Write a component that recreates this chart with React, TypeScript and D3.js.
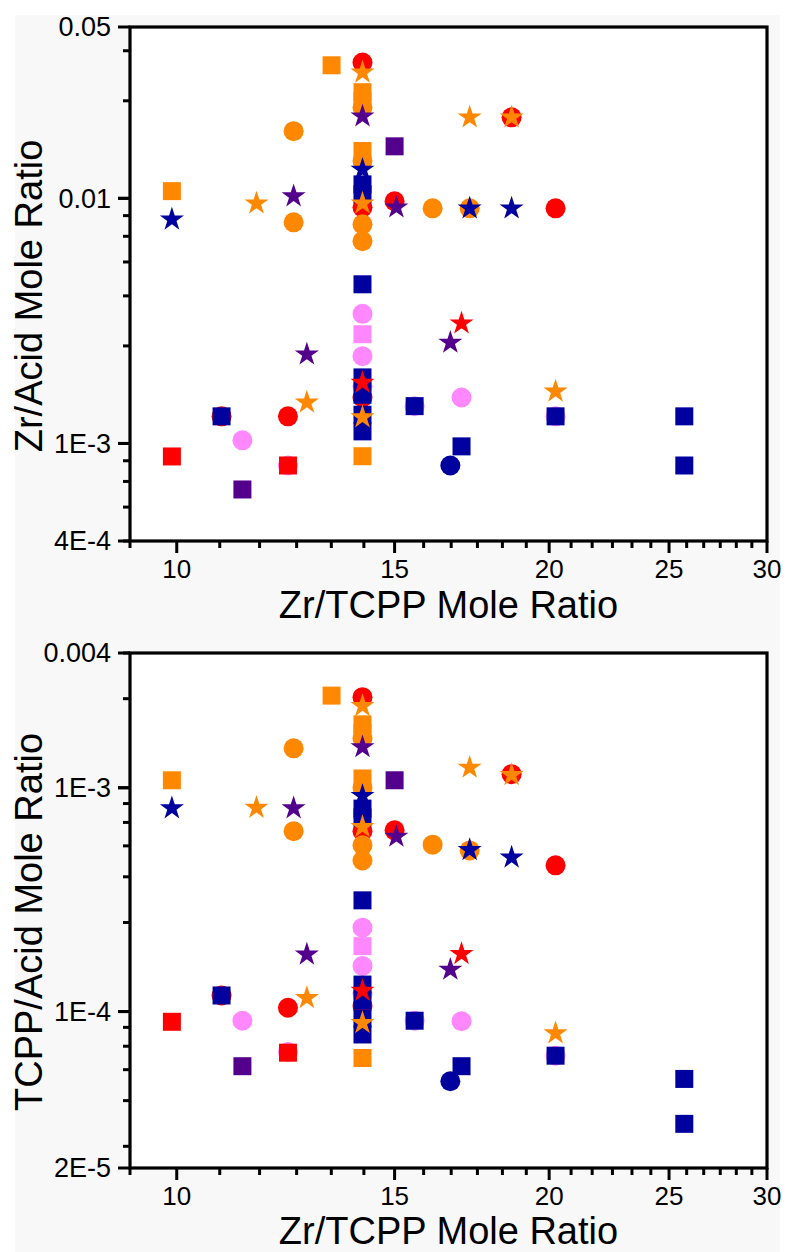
import React from "react";
import * as d3 from "d3";

// ---------- data ----------
// x = Zr/TCPP mole ratio, za = Zr/Acid mole ratio, ta = TCPP/Acid mole ratio
const pinkCircleX = [11.3, 12.3, 14.13, 14.13, 14.13, 15.57, 16.99, 20.24];
const pinkCircleZa = [0.00103, 0.000813, 0.00338, 0.00227, 0.00171, 0.00142, 0.00154, 0.00129];
const pinkCircleTa = [9.1e-5, 6.6e-5, 0.000237, 0.00016, 0.00012, 9.1e-5, 9.05e-5, 6.35e-5];

const redCircleX = [10.87, 12.3, 14.13, 14.13, 14.13, 15.0, 18.65, 20.24];
const redCircleZa = [0.00129, 0.00129, 0.0358, 0.00919, 0.00154, 0.00973, 0.0214, 0.0091];
const redCircleTa = [0.000118, 0.000104, 0.00254, 0.00064, 0.000106, 0.000645, 0.00115, 0.00045];

const orangeCircleX = [12.43, 12.43, 14.13, 14.13, 14.13, 14.13, 16.1, 17.25];
const orangeCircleZa = [0.0188, 0.00798, 0.0235, 0.0142, 0.00783, 0.00669, 0.0091, 0.0091];
const orangeCircleTa = [0.0015, 0.00064, 0.00166, 0.001, 0.000554, 0.000473, 0.000557, 0.000525];

const navyCircleX = [16.64];
const navyCircleZa = [0.000813];
const navyCircleTa = [4.88e-5];

const pinkSquareX = [14.13];
const pinkSquareZa = [0.00279];
const pinkSquareTa = [0.000196];

const redSquareX = [9.91, 12.3];
const redSquareZa = [0.000885, 0.000813];
const redSquareTa = [9.0e-5, 6.55e-5];

const orangeSquareX = [9.91, 13.34, 14.13, 14.13, 14.13, 14.13];
const orangeSquareZa = [0.0107, 0.0349, 0.0271, 0.0249, 0.0156, 0.000887];
const orangeSquareTa = [0.00108, 0.00258, 0.00192, 0.00176, 0.0011, 6.2e-5];

const purpleSquareX = [11.3, 15.0];
const purpleSquareZa = [0.000649, 0.0163];
const purpleSquareTa = [5.7e-5, 0.00108];

const navySquareX = [10.87, 14.13, 14.13, 14.13, 14.13, 14.13, 14.13, 14.13, 15.57, 16.99, 20.24, 25.72, 25.72];
const navySquareZa = [0.00129, 0.0114, 0.0104, 0.00446, 0.00186, 0.00158, 0.00131, 0.00112, 0.00142, 0.000973, 0.00129, 0.00129, 0.000813];
const navySquareTa = [0.000118, 0.000807, 0.000736, 0.000314, 0.000132, 0.000112, 9.3e-5, 7.9e-5, 9.1e-5, 5.7e-5, 6.35e-5, 5.0e-5, 3.15e-5];

const navyStarX = [9.91, 14.13, 17.25, 18.65];
const navyStarZa = [0.0082, 0.0131, 0.0091, 0.0091];
const navyStarTa = [0.00081, 0.00092, 0.000527, 0.000488];

const orangeStarX = [11.6, 12.74, 14.13, 14.13, 14.13, 17.25, 18.65, 20.24];
const orangeStarZa = [0.00954, 0.00147, 0.0326, 0.00954, 0.00128, 0.0214, 0.0214, 0.00163];
const orangeStarTa = [0.000815, 0.000115, 0.00232, 0.000668, 8.9e-5, 0.00123, 0.00114, 8.0e-5];

const purpleStarX = [12.43, 12.74, 14.13, 15.05, 16.64];
const purpleStarZa = [0.0102, 0.00231, 0.0216, 0.00919, 0.00258];
const purpleStarTa = [0.00081, 0.00018, 0.00152, 0.000605, 0.000154];

const redStarX = [14.13, 16.99];
const redStarZa = [0.00177, 0.00309];
const redStarTa = [0.000124, 0.000181];

// axis ticks
const xDomain = [9.1667, 30];
const xMajorTicks = [10, 15, 20, 25, 30];
const xTickLabels = ["10", "15", "20", "25", "30"];
const topDomain = [4e-4, 0.05];
const topLabelTicks = [0.05, 0.01, 1e-3, 4e-4];
const topTickLabels = ["0.05", "0.01", "1E-3", "4E-4"];
const botDomain = [2e-5, 0.004];
const botLabelTicks = [0.004, 1e-3, 1e-4, 2e-5];
const botTickLabels = ["0.004", "1E-3", "1E-4", "2E-5"];

// ---------- styles ----------
const RED = "#FF0000";
const ORANGE = "#FF8800";
const NAVY = "#00009E";
const PURPLE = "#53008C";
const PINK = "#FF88FF";

type Series = { x: number[]; za: number[]; ta: number[]; color: string; shape: "circle" | "square" | "star" };

const series: Series[] = [
  { x: pinkCircleX, za: pinkCircleZa, ta: pinkCircleTa, color: PINK, shape: "circle" },
  { x: redCircleX, za: redCircleZa, ta: redCircleTa, color: RED, shape: "circle" },
  { x: orangeCircleX, za: orangeCircleZa, ta: orangeCircleTa, color: ORANGE, shape: "circle" },
  { x: navyCircleX, za: navyCircleZa, ta: navyCircleTa, color: NAVY, shape: "circle" },
  { x: pinkSquareX, za: pinkSquareZa, ta: pinkSquareTa, color: PINK, shape: "square" },
  { x: redSquareX, za: redSquareZa, ta: redSquareTa, color: RED, shape: "square" },
  { x: orangeSquareX, za: orangeSquareZa, ta: orangeSquareTa, color: ORANGE, shape: "square" },
  { x: purpleSquareX, za: purpleSquareZa, ta: purpleSquareTa, color: PURPLE, shape: "square" },
  { x: navySquareX, za: navySquareZa, ta: navySquareTa, color: NAVY, shape: "square" },
  { x: navyStarX, za: navyStarZa, ta: navyStarTa, color: NAVY, shape: "star" },
  { x: orangeStarX, za: orangeStarZa, ta: orangeStarTa, color: ORANGE, shape: "star" },
  { x: purpleStarX, za: purpleStarZa, ta: purpleStarTa, color: PURPLE, shape: "star" },
  { x: redStarX, za: redStarZa, ta: redStarTa, color: RED, shape: "star" },
];

const symbolPath: Record<string, string> = {
  circle: d3.symbol(d3.symbolCircle, Math.PI * 10 * 10)() as string,
  square: d3.symbol(d3.symbolSquare, 18 * 18)() as string,
  star: d3.symbol(d3.symbolStar, 180)() as string,
};

const FONT = "Arial, 'Liberation Sans', sans-serif";
const L = 130, R = 767;

function logMinor(domain: number[]): number[] {
  const out: number[] = [];
  const lo = Math.floor(Math.log10(domain[0])) - 1;
  const hi = Math.ceil(Math.log10(domain[1]));
  for (let e = lo; e <= hi; e++) {
    const d = Math.pow(10, e);
    for (let k = 1; k <= 5; k++) {
      const v = d * (1 + 1.5 * k);
      if (v >= domain[0] * 0.999 && v <= domain[1] * 1.001) out.push(v);
    }
  }
  return out;
}

function xMinor(): number[] {
  const out: number[] = [];
  const majors = [5, ...xMajorTicks];
  for (let i = 0; i < majors.length - 1; i++) {
    for (let k = 1; k <= 5; k++) {
      const v = majors[i] + (5 * k) / 6;
      if (v >= xDomain[0] * 0.999 && v <= xDomain[1]) out.push(v);
    }
  }
  return out;
}

function Panel({ top, bottom, yDomain, labelTicks, labels, valueKey, yTitle, yTitleCenter, xTitleBaseline }: any) {
  const x = d3.scaleLog().domain(xDomain).range([L, R]);
  const y = d3.scaleLog().domain(yDomain).range([bottom, top]);
  const yMajor = [Math.pow(10, Math.round(Math.log10(labelTicks[1]))), Math.pow(10, Math.round(Math.log10(labelTicks[2])))];
  const yMinor = logMinor(yDomain);
  return (
    <g>
      <rect x={L} y={top} width={R - L} height={bottom - top} fill="#ffffff" />
      {/* markers */}
      {series.map((s, si) =>
        s.x.map((xv, i) => (
          <path
            key={`${si}-${i}`}
            d={symbolPath[s.shape]}
            transform={`translate(${x(xv)},${y((s as any)[valueKey][i])})`}
            fill={s.color}
          />
        ))
      )}
      {/* frame */}
      <rect x={L} y={top} width={R - L} height={bottom - top} fill="none" stroke="#000" strokeWidth={3.2} />
      {/* x ticks */}
      {xMajorTicks.map((t) => (
        <line key={`xM${t}`} x1={x(t)} x2={x(t)} y1={bottom} y2={bottom + 12} stroke="#000" strokeWidth={3} />
      ))}
      {xMinor().map((t) => (
        <line key={`xm${t}`} x1={x(t)} x2={x(t)} y1={bottom} y2={bottom + 7} stroke="#000" strokeWidth={3} />
      ))}
      {xMajorTicks.map((t, i) => (
        <text key={`xl${t}`} x={x(t)} y={bottom + 37} textAnchor="middle" fontFamily={FONT} fontSize={26} fill="#000">
          {xTickLabels[i]}
        </text>
      ))}
      {/* y ticks */}
      {[...labelTicks, ...yMajor].map((t: number, i: number) => (
        <line key={`yM${i}`} x1={L - 12} x2={L} y1={y(t)} y2={y(t)} stroke="#000" strokeWidth={3} />
      ))}
      {yMinor.map((t) => (
        <line key={`ym${t}`} x1={L - 7} x2={L} y1={y(t)} y2={y(t)} stroke="#000" strokeWidth={3} />
      ))}
      {labelTicks.map((t: number, i: number) => (
        <text key={`yl${i}`} x={L - 19} y={y(t)} dy="0.35em" textAnchor="end" fontFamily={FONT} fontSize={27} fill="#000">
          {labels[i]}
        </text>
      ))}
      {/* titles */}
      <text x={(L + R) / 2} y={xTitleBaseline} textAnchor="middle" fontFamily={FONT} fontSize={38} fill="#000">
        Zr/TCPP Mole Ratio
      </text>
      <text
        transform={`translate(42,${yTitleCenter}) rotate(-90)`}
        textAnchor="middle"
        fontFamily={FONT}
        fontSize={38}
        fill="#000"
      >
        {yTitle}
      </text>
    </g>
  );
}

export default function App() {
  return (
    <div style={{ position: "absolute", left: 0, top: 0 }}>
      <svg width={786} height={1252} viewBox="0 0 786 1252" style={{ display: "block" }}>
        <rect x={0} y={0} width={786} height={1252} fill="#ffffff" />
        <rect x={15} y={15} width={765} height={1237} fill="#f8f8f8" />
        <Panel
          top={27}
          bottom={541}
          yDomain={topDomain}
          labelTicks={topLabelTicks}
          labels={topTickLabels}
          valueKey="za"
          yTitle="Zr/Acid Mole Ratio"
          yTitleCenter={296}
          xTitleBaseline={618}
        />
        <Panel
          top={653}
          bottom={1168}
          yDomain={botDomain}
          labelTicks={botLabelTicks}
          labels={botTickLabels}
          valueKey="ta"
          yTitle="TCPP/Acid Mole Ratio"
          yTitleCenter={922}
          xTitleBaseline={1244}
        />
      </svg>
    </div>
  );
}
